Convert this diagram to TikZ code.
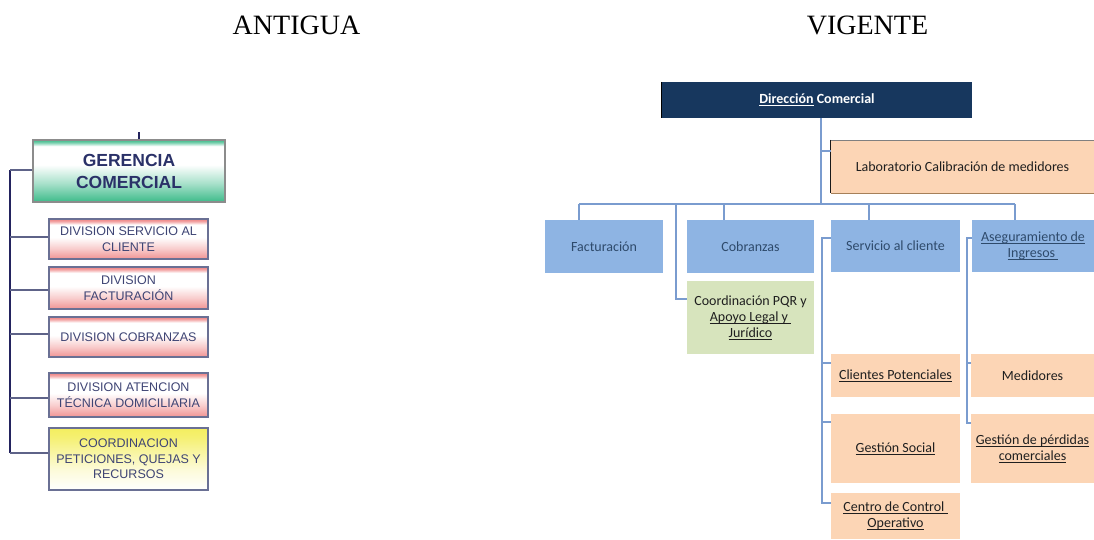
\documentclass[tikz,border=0pt]{standalone}
\usepackage{fontspec}
\setmainfont{Carlito}
\newfontfamily\serifT{Liberation Serif}
\newfontfamily\arialF{Liberation Sans}
\usetikzlibrary{calc}
\definecolor{navy}{HTML}{17375E}
\definecolor{bluebox}{HTML}{8EB4E3}
\definecolor{peach}{HTML}{FCD5B5}
\definecolor{greenbox}{HTML}{D7E4BD}
\definecolor{connC}{HTML}{7A9CCF}
\definecolor{bluetext}{HTML}{2E4A6B}
\definecolor{oldtext}{HTML}{3E4474}
\definecolor{oldborder}{HTML}{6A7094}
\definecolor{oldbus}{HTML}{23235E}
\definecolor{oldstub}{HTML}{5E6388}
\definecolor{gGreen}{HTML}{3DBB8A}
\definecolor{gRed}{HTML}{EE8080}
\definecolor{gYellow}{HTML}{F4EE60}
\definecolor{gertext}{HTML}{2A3168}
\pgfdeclareverticalshading{shGreen}{100bp}{color(0bp)=(gGreen); color(25bp)=(gGreen); color(40bp)=(gGreen!45); color(55bp)=(white); color(70bp)=(white); color(73bp)=(gGreen!70); color(75bp)=(gGreen); color(100bp)=(gGreen)}
\pgfdeclareverticalshading{shRed}{100bp}{color(0bp)=(gRed!85); color(25bp)=(gRed!85); color(38bp)=(gRed!40); color(52bp)=(white); color(68bp)=(white); color(72bp)=(gRed!70); color(75bp)=(gRed); color(100bp)=(gRed)}
\pgfdeclareverticalshading{shYellow}{100bp}{color(0bp)=(white); color(25bp)=(white); color(42bp)=(gYellow!25); color(68bp)=(gYellow!90); color(75bp)=(gYellow); color(100bp)=(gYellow)}
\newcommand\myul[1]{\leavevmode\setbox0=\hbox{#1}\rlap{\rule[-2.3pt]{\wd0}{0.7pt}}\box0\relax}
\tikzset{
  oldbox/.style={draw=oldborder, line width=1.6pt, inner sep=0pt, align=center, shade,
    font=\arialF\fontsize{12.5}{15.5}\selectfont, text=oldtext},
  newbox/.style={inner sep=0pt, align=center, font=\fontsize{14}{16}\selectfont},
  bluebx/.style={newbox, fill=bluebox, text=bluetext},
  peachbx/.style={newbox, fill=peach, text=black!88},
  conn/.style={draw=connC, line width=1.5pt},
  bus/.style={draw=oldbus, line width=2pt},
  stub/.style={draw=oldstub, line width=2pt},
  title/.style={font=\serifT\fontsize{28}{30}\selectfont, anchor=base}
}
\begin{document}
\begin{tikzpicture}[x=1pt,y=-1pt]
\useasboundingbox (0,0) rectangle (1094,539);
% titles
\node[title] (tA) at (296.5,34) {ANTIGUA};
\node[title] (tV) at (867.5,34) {VIGENTE};
% ---------------- ANTIGUA ----------------
\node[draw=black!45, line width=1.5pt, shade, shading=shGreen, inner sep=0pt, align=center,
  minimum width=192pt, minimum height=62pt, text=gertext,
  font=\arialF\bfseries\fontsize{17.5}{22}\selectfont] (ger) at (129,171) {GERENCIA\\COMERCIAL};
\node[oldbox, shading=shRed, minimum width=159pt, minimum height=40pt] (d1) at (128.5,239) {DIVISION SERVICIO AL\\CLIENTE};
\node[oldbox, shading=shRed, minimum width=159pt, minimum height=42pt] (d2) at (128.5,288) {DIVISION\\FACTURACIÓN};
\node[oldbox, shading=shRed, minimum width=159pt, minimum height=40pt] (d3) at (128.5,337) {DIVISION COBRANZAS};
\node[oldbox, shading=shRed, minimum width=159pt, minimum height=44pt] (d4) at (128.5,395) {DIVISION ATENCION\\TÉCNICA DOMICILIARIA};
\node[oldbox, shading=shYellow, minimum width=159pt, minimum height=62pt] (d5) at (128.5,459) {COORDINACION\\PETICIONES, QUEJAS Y\\RECURSOS};
\coordinate (gt) at (139,132);
\draw[bus] (gt) -- (gt |- ger.north);
\coordinate (bt) at (10,170);
\coordinate (bb) at (10,453);
\draw[bus] (bt) -- (bb);
\draw[stub] (ger.west |- bt) -- (bt);
\draw[stub] (d1.west |- 0,237) -- (bt |- 0,237);
\draw[stub] (d2.west |- 0,290) -- (bt |- 0,290);
\draw[stub] (d3.west |- 0,334) -- (bt |- 0,334);
\draw[stub] (d4.west |- 0,398) -- (bt |- 0,398);
\draw[stub] (d5.west |- bb) -- (bb);
% ---------------- VIGENTE ----------------
\node[newbox, fill=navy, text=white, font=\fontsize{14}{16}\selectfont\bfseries,
  minimum width=310pt, minimum height=36pt] (dir) at (817,100) {\myul{Dirección} Comercial};
\draw[black, line width=1pt] (dir.north west) -- (dir.south west);
\node[peachbx, minimum width=263pt, minimum height=53pt] (lab) at (962.5,166.5) {Laboratorio Calibración de medidores};
\draw[black!50, line width=0.6pt] (lab.north west) -- (lab.north east);
\draw[black!90, line width=1pt] (lab.north west) -- (lab.south west);
\draw[brown!60!gray, line width=1.4pt] (lab.south west) -- (lab.south east);
\node[bluebx, minimum width=118pt, minimum height=53pt] (fac) at (604,246.5) {Facturación};
\node[bluebx, minimum width=127pt, minimum height=53pt] (cob) at (750.5,246.5) {Cobranzas};
\node[bluebx, minimum width=129pt, minimum height=52pt] (ser) at (895.5,246) {Servicio al cliente};
\node[bluebx, minimum width=122pt, minimum height=52pt] (ase) at (1033,246) {\myul{Aseguramiento de}\\\myul{Ingresos }};
\node[newbox, fill=greenbox, text=black!88, minimum width=127pt, minimum height=73pt] (pqr) at (750.5,317.5) {Coordinación PQR y\\\myul{Apoyo Legal y }\\\myul{Jurídico}};
\node[peachbx, minimum width=129pt, minimum height=43pt] (cli) at (895.5,375.5) {\myul{Clientes Potenciales}};
\node[peachbx, minimum width=129pt, minimum height=69pt] (ges) at (895.5,448.5) {\myul{Gestión Social}};
\node[peachbx, minimum width=129pt, minimum height=46pt] (cen) at (895.5,516) {\myul{Centro de Control }\\\myul{Operativo}};
\node[peachbx, minimum width=123pt, minimum height=43pt] (med) at (1032.5,375.5) {Medidores};
\node[peachbx, minimum width=123pt, minimum height=69pt] (per) at (1032.5,448.5) {\myul{Gestión de pérdidas}\\\myul{comerciales}};
% connectors
\coordinate (j0) at (821,204);
\draw[conn] (dir.south -| j0) -- (j0);
\draw[conn] (lab.west |- 0,151) -| (j0);
\coordinate (busL) at (579,204);
\coordinate (busR) at (1015,204);
\draw[conn] (busL) -- (busR);
\draw[conn] (busL) -- (busL |- fac.north);
\coordinate (jc) at (724,204);
\draw[conn] (jc) -- (jc |- cob.north);
\coordinate (js) at (869,204);
\draw[conn] (js) -- (js |- ser.north);
\draw[conn] (busR) -- (busR |- ase.north);
\coordinate (jp) at (676,204);
\draw[conn] (jp) |- (pqr.west |- 0,299);
\coordinate (st) at (822,238);
\coordinate (sb) at (822,503);
\draw[conn] (ser.west |- st) -- (st) -- (sb) -- (cen.west |- sb);
\draw[conn] (cli.west |- 0,363) -- (st |- 0,363);
\draw[conn] (ges.west |- 0,422) -- (st |- 0,422);
\coordinate (at) at (967,238);
\coordinate (ab) at (967,423);
\draw[conn] (ase.west |- at) -- (at) -- (ab) -- (per.west |- ab);
\draw[conn] (med.west |- 0,363) -- (at |- 0,363);
\end{tikzpicture}
\end{document}
